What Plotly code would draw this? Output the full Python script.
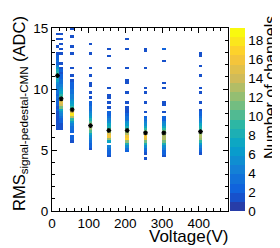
import plotly.graph_objects as go
import numpy as np

# ---------------- data ----------------
voltages = [10, 20, 50, 100, 150, 200, 250, 300, 400]        # bias voltage (V)
mean_rms = [11.1, 9.2, 8.3, 7.0, 6.6, 6.6, 6.4, 6.4, 6.5]     # profile mean (ADC)

# isolated high-RMS channels (one channel each)
tail_10 = [14.5, 13.9, 13.4, 12.9]
tail_20 = [14.3, 13.9, 13.6, 13.2, 12.8, 12.1]
tail_50 = [14.8, 14.2, 13.4, 12.8, 11.7, 11.0]
tail_100 = [13.5, 12.8, 11.7, 11.1, 10.5, 10.2, 9.5, 9.2]
tail_150 = [13.3, 12.6, 11.5, 10.1, 9.4, 9.2, 8.9, 8.4]
tail_200 = [14.0, 13.3, 11.5, 10.7, 10.3, 9.7, 8.8, 8.4, 8.2]
tail_250 = [13.2, 13.0, 11.6, 10.1, 9.5, 8.9, 8.0, 4.2]
tail_300 = [13.3, 13.1, 12.2, 10.3, 9.9, 8.9, 8.6, 8.0]
tail_400 = [12.9, 12.7, 11.8, 11.1, 9.9, 9.7, 8.8]

# continuous core: top RMS value and channel counts per 0.2 ADC bin going down
core_top = [12.6, 11.6, 10.6, 8.8, 8.0, 8.0, 7.6, 7.6, 8.2]
core_10 = [2, 2, 3, 2, 4, 6, 8, 9, 10, 8, 7, 5, 4, 4, 3, 3, 2, 3, 2, 2, 2, 1, 2, 1, 1, 1, 1, 1, 1, 1, 1]
core_20 = [1, 2, 1, 2, 2, 3, 3, 4, 5, 6, 7, 9, 10, 13, 15, 14, 11, 7, 5, 4, 3, 2, 2, 1, 1, 1]
core_50 = [1, 2, 2, 2, 3, 3, 4, 4, 5, 6, 7, 9, 12, 15, 18, 13, 9, 6, 4, 3, 3, 2, 0, 2, 2, 1]
core_100 = [2, 2, 3, 3, 4, 5, 6, 8, 10, 12, 14, 12, 10, 7, 5, 4, 3, 2, 2, 1]
core_150 = [2, 2, 3, 4, 5, 7, 8, 10, 12, 15, 16, 12, 7, 0, 4, 3, 2, 2, 1]
core_200 = [1, 2, 3, 3, 5, 6, 8, 10, 12, 13, 16, 17, 12, 8, 5, 3, 2]
core_250 = [2, 3, 4, 5, 7, 9, 11, 13, 16, 15, 11, 8, 5, 3, 2, 1]
core_300 = [2, 2, 4, 5, 7, 9, 11, 12, 13, 13, 11, 8, 5, 4, 2, 2, 1]
core_400 = [1, 2, 2, 3, 4, 5, 7, 8, 9, 11, 12, 13, 12, 9, 6, 4, 3, 2, 1]

tails = [tail_10, tail_20, tail_50, tail_100, tail_150, tail_200, tail_250, tail_300, tail_400]
cores = [core_10, core_20, core_50, core_100, core_150, core_200, core_250, core_300, core_400]

x_bin, y_bin = 10.0, 0.2
x_max, y_max = 480.0, 15.0
z_max = 19.3

# ---------------- histogram filling ----------------
nx, ny = int(round(x_max / x_bin)), int(round(y_max / y_bin))
counts = np.zeros((ny, nx))
for v, tl, top, core in zip(voltages, tails, core_top, cores):
    j = int(v // x_bin)
    for r in tl:
        counts[int(round(r / y_bin)), j] += 1
    for m, c in enumerate(core):
        k = int(round((top - m * y_bin) / y_bin))
        counts[k, j] += c
z = [[(val if val > 0 else None) for val in row] for row in counts]
xc = [(i + 0.5) * x_bin for i in range(nx)]
yc = [(k + 0.5) * y_bin for k in range(ny)]

# ROOT kBird palette, 20 contour levels
st = [0.0, 0.125, 0.25, 0.375, 0.5, 0.625, 0.75, 0.875, 1.0]
rr = [0.2082, 0.0592, 0.0780, 0.0232, 0.1802, 0.5301, 0.8186, 0.9956, 0.9764]
gg = [0.1664, 0.3599, 0.5041, 0.6419, 0.7178, 0.7492, 0.7328, 0.7862, 0.9832]
bb = [0.5293, 0.8684, 0.8385, 0.7914, 0.6425, 0.4662, 0.3499, 0.1968, 0.0539]
nlev = 20
cscale = []
for k in range(nlev):
    f = int((k + 0.99) * 255 / nlev) / 255.0
    c = "rgb(%d,%d,%d)" % tuple(int(round(255 * np.interp(f, st, ch))) for ch in (rr, gg, bb))
    cscale.append([k / nlev, c])
    cscale.append([(k + 1) / nlev, c])

font = "Liberation Sans, Arial, sans-serif"

fig = go.Figure()
fig.add_trace(go.Heatmap(
    x=xc, y=yc, z=z, zmin=0, zmax=z_max, colorscale=cscale, hoverongaps=False,
    colorbar=dict(x=1.011, xanchor="left", y=0.5, yanchor="middle", len=1.0, lenmode="fraction",
                  thickness=15, outlinewidth=0, ticks="", tickvals=list(range(0, 19, 2)),
                  tickfont=dict(family=font, size=13.5, color="black"), ypad=0, xpad=0),
))
fig.add_trace(go.Scatter(
    x=[v + x_bin / 2 for v in voltages], y=mean_rms, mode="markers",
    marker=dict(symbol="asterisk-open", size=4, color="black", line=dict(color="black", width=1.2)),
    showlegend=False,
))

axis_common = dict(showgrid=False, zeroline=False, showline=True, linecolor="black", linewidth=1,
                   mirror="ticks", ticks="inside", ticklen=5, tickcolor="black",
                   tickfont=dict(family=font, size=13.5, color="black"))
fig.update_xaxes(range=[0, x_max], dtick=100, tick0=0,
                 minor=dict(dtick=20, ticklen=3, ticks="inside", tickcolor="black"), **axis_common)
fig.update_yaxes(range=[0, y_max], dtick=5, tick0=0,
                 minor=dict(dtick=1, ticklen=3, ticks="inside", tickcolor="black"), **axis_common)

L, R, T, B, W, H = 44, 60, 20, 45, 280, 248
pw, ph = W - L - R, H - T - B
def px(xp): return (xp - L) / pw
def py(yp): return (H - B - yp) / ph

fig.update_layout(
    width=W, height=H, margin=dict(l=L, r=R, t=T, b=B),
    plot_bgcolor="white", paper_bgcolor="white", showlegend=False,
    font=dict(family=font, color="black"),
    annotations=[
        dict(text="Voltage(V)", xref="paper", yref="paper", x=px(222), y=py(228),
             xanchor="right", yanchor="middle", showarrow=False, font=dict(size=17)),
        dict(text="RMS<sub>signal-pedestal-CMN</sub> (ADC)", xref="paper", yref="paper",
             x=px(12), y=py(106), xanchor="center", yanchor="middle", textangle=-90,
             showarrow=False, font=dict(size=16.5)),
        dict(text="Number of channels", xref="paper", yref="paper", x=px(262), y=py(80),
             xanchor="center", yanchor="middle", textangle=-90, showarrow=False, font=dict(size=16)),
    ],
)
fig.write_html("out.html")
